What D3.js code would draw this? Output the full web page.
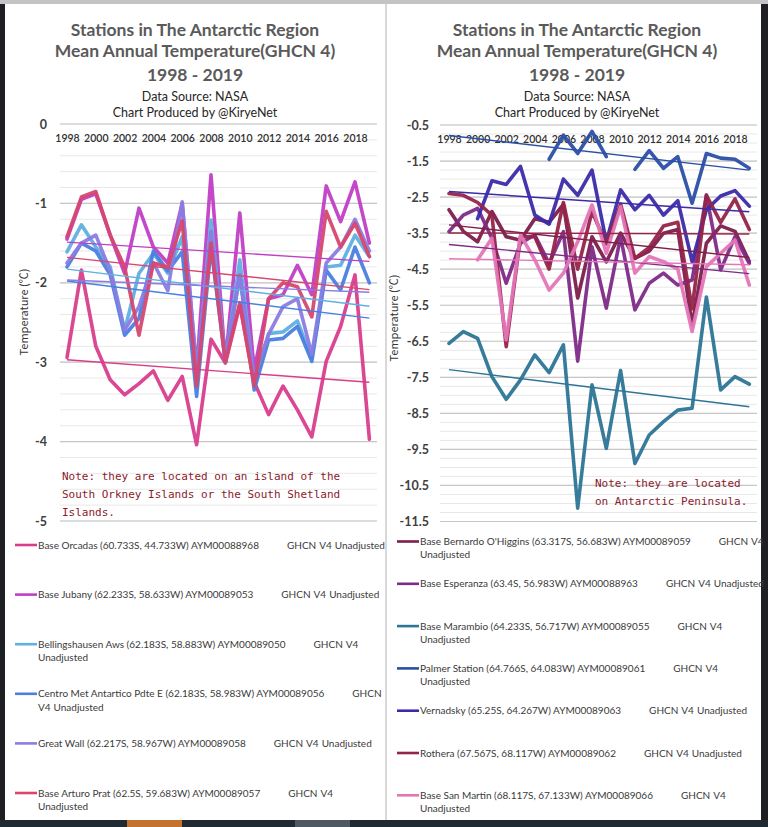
<!DOCTYPE html>
<html><head><meta charset="utf-8">
<script src="https://cdn.jsdelivr.net/npm/d3@7/dist/d3.min.js"></script>
<style>body{margin:0;background:#1c1d20;overflow:hidden}svg{display:block}</style>
</head><body><svg id="c" width="768" height="827"></svg>
<script>
// ---------- DATA ----------
const years = d3.range(1998, 2020);
const xTickYears = [1998,2000,2002,2004,2006,2008,2010,2012,2014,2016,2018];
const titleLines = ["Stations in The Antarctic Region","Mean Annual Temperature(GHCN 4)","1998 - 2019"];
const subLines = ["Data Source: NASA","Chart Produced by @KiryeNet"];
const yTitle = "Temperature (\u2103)";
const suffix = "GHCN V4 Unadjusted";

// Left chart
const leftYTicks = [0,-1,-2,-3,-4,-5];
const leftNames = [
 "Base Orcadas (60.733S, 44.733W) AYM00088968",
 "Base Jubany (62.233S, 58.633W) AYM00089053",
 "Bellingshausen Aws (62.183S, 58.883W) AYM00089050",
 "Centro Met Antartico Pdte E (62.183S, 58.983W) AYM00089056",
 "Great Wall (62.217S, 58.967W) AYM00089058",
 "Base Arturo Prat (62.5S, 59.683W) AYM00089057"];
const orcadas   = [-2.94,-1.84,-2.80,-3.22,-3.41,-3.27,-3.11,-3.48,-3.18,-4.04,-2.71,-3.01,-2.28,-3.25,-3.66,-3.30,-3.60,-3.94,-2.99,-2.55,-1.90,-3.97];
const jubany    = [-1.45,-0.95,-0.88,-1.40,-1.88,-1.06,-1.55,-1.75,-1.00,-3.10,-0.64,-3.00,-1.12,-3.10,-2.20,-2.15,-1.78,-2.15,-0.78,-1.23,-0.73,-1.50];
const bellings  = [-1.61,-1.27,-1.55,-1.80,-2.60,-1.88,-1.63,-1.88,-1.42,-3.20,-1.21,-3.00,-1.71,-3.25,-2.64,-2.62,-2.48,-2.95,-1.80,-1.78,-1.40,-1.67];
const centroMet = [-1.80,-1.50,-1.60,-1.90,-2.66,-2.45,-1.60,-1.85,-1.61,-3.43,-1.55,-3.00,-1.90,-3.35,-2.72,-2.70,-2.55,-2.99,-1.84,-2.09,-1.55,-2.00];
const greatWall = [-1.75,-1.50,-1.40,-1.85,-2.60,-2.30,-1.75,-2.10,-0.98,-3.10,-1.35,-3.00,-1.90,-3.20,-2.65,-2.30,-2.20,-2.90,-1.75,-1.55,-1.20,-1.60];
const arturoPrat= [-1.42,-0.92,-0.85,-1.40,-1.80,-2.66,-1.75,-1.80,-1.22,-3.30,-1.50,-3.00,-2.25,-3.30,-2.20,-2.00,-2.05,-2.43,-1.10,-1.55,-1.25,-1.67];
const leftSeries = [orcadas, jubany, bellings, centroMet, greatWall, arturoPrat];
const leftColors = ["#d83d8c","#c03fc6","#5fb0e0","#4a7fe0","#8b7ce2","#d7476f"];
const leftNote = ["Note: they are located on an island of the","South Orkney Islands or the South Shetland","Islands."];

// Right chart
const rightYTicks = [-0.5,-1.5,-2.5,-3.5,-4.5,-5.5,-6.5,-7.5,-8.5,-9.5,-10.5,-11.5];
const rightNames = [
 "Base Bernardo O'Higgins (63.317S, 56.683W) AYM00089059",
 "Base Esperanza (63.4S, 56.983W) AYM00088963",
 "Base Marambio (64.233S, 56.717W) AYM00089055",
 "Palmer Station (64.766S, 64.083W) AYM00089061",
 "Vernadsky (65.25S, 64.267W) AYM00089063",
 "Rothera (67.567S, 68.117W) AYM00089062",
 "Base San Martin (68.117S, 67.133W) AYM00089066"];
const ohiggins  = [-2.85,-3.45,-3.74,-2.90,-3.60,-3.70,-3.10,-3.20,-2.70,-5.30,-3.60,-4.30,-3.50,-4.20,-4.00,-3.50,-3.40,-6.05,-3.78,-3.30,-3.45,-4.29];
const esperanza = [-3.46,-3.00,-2.81,-3.64,-4.89,-3.78,-3.55,-4.34,-3.46,-7.05,-3.88,-5.58,-3.60,-5.63,-4.89,-4.61,-4.94,-4.80,-2.44,-4.52,-3.60,-4.34];
const marambio  = [-6.56,-6.23,-6.42,-7.48,-8.11,-7.57,-6.88,-7.37,-6.60,-11.13,-7.71,-9.47,-7.31,-9.89,-9.10,-8.73,-8.41,-8.36,-5.27,-7.85,-7.48,-7.69];
const palmer    = [null,null,null,null,null,null,null,-1.45,-0.78,-1.29,-0.68,-1.38,null,-1.73,-1.21,-1.70,-1.38,-2.67,-1.29,-1.42,-1.45,-1.70];
const vernadsky = [null,null,-3.10,-2.05,-2.15,-1.65,-3.00,-3.25,-2.00,-2.45,-1.75,-3.74,-2.30,-2.85,-2.45,-3.00,-2.60,-4.29,-2.85,-2.47,-2.32,-2.75];
const rothera   = [-2.40,-2.45,-2.65,-3.00,-6.65,-3.60,-3.60,-4.50,-2.65,-4.50,-2.90,-3.80,-2.70,-4.20,-3.90,-3.30,-3.20,-5.60,-2.45,-3.20,-2.55,-3.40];
const sanMartin = [null,null,-4.24,-3.64,-6.46,-3.55,-4.24,-5.08,-4.61,-3.74,-2.72,-4.06,-2.77,-4.61,-4.15,-4.29,-4.50,-6.23,-4.43,-4.06,-3.69,-4.94];
const rightSeries = [ohiggins, esperanza, marambio, palmer, vernadsky, rothera, sanMartin];
const rightColors = ["#7c1f4b","#7f2a88","#2d7597","#2a4fa6","#3b2ba9","#952449","#e476b8"];
const rightNote = ["Note: they are located","on Antarctic Peninsula."];

// ---------- DRAW ----------
const svg = d3.select("#c");
svg.append("rect").attr("width",768).attr("height",827).attr("fill","#1d1f22");
svg.append("rect").attr("x",0).attr("y",0).attr("width",768).attr("height",4).attr("fill","#c4c4c4");
svg.append("rect").attr("x",5).attr("y",4).attr("width",380).attr("height",816).attr("fill","#fff");
svg.append("rect").attr("x",385).attr("y",4).attr("width",2).attr("height",816).attr("fill","#d9d9d9");
svg.append("rect").attr("x",387).attr("y",4).attr("width",374).attr("height",816).attr("fill","#fff");
svg.append("rect").attr("x",0).attr("y",820).attr("width",768).attr("height",7).attr("fill","#1f2a33");
svg.append("rect").attr("x",127).attr("y",820).attr("width",55).attr("height",7).attr("fill","#c4722f");
svg.append("rect").attr("x",295).attr("y",820).attr("width",55).attr("height",7).attr("fill","#4e5963");

function regression(vals){
  const pts = vals.map((v,i)=>[i,v]).filter(p=>p[1]!=null);
  const mx = d3.mean(pts,p=>p[0]), my = d3.mean(pts,p=>p[1]);
  const b = d3.sum(pts,p=>(p[0]-mx)*(p[1]-my))/d3.sum(pts,p=>(p[0]-mx)**2);
  return i => my + b*(i-mx);
}

function drawChart(cfg){
  const g = svg.append("g");
  titleLines.forEach((t,i)=>g.append("text").attr("x",cfg.cx).attr("y",[36,57,81][i])
    .attr("text-anchor","middle").attr("font-family","Lato").attr("font-weight","bold")
    .attr("font-size",17.5).attr("fill","#5a5a5a").text(t));
  subLines.forEach((t,i)=>g.append("text").attr("x",cfg.cx).attr("y",[101,117][i])
    .attr("text-anchor","middle").attr("font-family","Lato").attr("font-size",12.5)
    .attr("fill","#262626").text(t));

  const x = d3.scalePoint().domain(years).range(cfg.xr);
  const y = d3.scaleLinear().domain(cfg.yd).range(cfg.yr);
  const minors = d3.range(0, Math.round((cfg.yd[0]-cfg.yd[1])/cfg.minor)+1).map(k=>cfg.yd[0]-k*cfg.minor);
  g.append("g").selectAll("line").data(minors).join("line")
    .attr("x1",cfg.gx[0]).attr("x2",cfg.gx[1]).attr("y1",d=>y(d)).attr("y2",d=>y(d))
    .attr("stroke","#e8e8e8").attr("stroke-width",1);
  g.append("g").selectAll("line").data(cfg.ticks).join("line")
    .attr("x1",cfg.gx[0]).attr("x2",cfg.gx[1]).attr("y1",d=>y(d)).attr("y2",d=>y(d))
    .attr("stroke","#c6c6c6").attr("stroke-width",1.2);
  const ya = d3.axisLeft(y).tickValues(cfg.ticks).tickSize(0).tickPadding(0)
     .tickFormat(d=>d3.format("")(d).replace("\u2212","-"));
  const yg = g.append("g").attr("transform",`translate(${cfg.ylabX},0)`).call(ya);
  yg.select(".domain").remove();
  yg.selectAll("text").attr("font-family","Lato").attr("font-weight","bold").attr("font-size",12.5).attr("fill","#404040");
  const xa = d3.axisBottom(x).tickValues(xTickYears).tickSize(0).tickPadding(0);
  const xg = g.append("g").attr("transform",`translate(0,${cfg.xlabY})`).call(xa);
  xg.select(".domain").remove();
  xg.selectAll("text").attr("font-family","Lato").attr("font-weight","600").attr("font-size",10.5).attr("fill","#303030");
  g.append("text").attr("transform",`translate(${cfg.ytX},${cfg.ytY}) rotate(-90)`)
    .attr("text-anchor","middle").attr("font-family","Noto Sans CJK JP").attr("font-size",11)
    .attr("fill","#333").text(yTitle);
  const line = d3.line().defined(d=>d[1]!=null).x(d=>x(d[0])).y(d=>y(d[1]));
  cfg.series.forEach((s,k)=>{
    g.append("path").datum(s.map((v,i)=>[years[i],v])).attr("d",line)
      .attr("fill","none").attr("stroke",cfg.colors[k]).attr("stroke-width",3.6)
      .attr("stroke-linejoin","round").attr("stroke-linecap","round").attr("stroke-opacity",0.95);
  });
  cfg.series.forEach((s,k)=>{
    const f = regression(s);
    g.append("line").attr("x1",x(years[0])).attr("x2",x(years[years.length-1]))
      .attr("y1",y(f(0))).attr("y2",y(f(years.length-1)))
      .attr("stroke",cfg.colors[k]).attr("stroke-width",1.4);
  });
  cfg.note.forEach((t,i)=>g.append("text").attr("x",cfg.noteX).attr("y",cfg.noteY+i*17.8)
    .attr("font-family","DejaVu Sans Mono").attr("font-size",11).attr("fill","#8a1a2c").text(t));
  cfg.names.forEach((nm,k)=>{
    const ly = cfg.legY + k*cfg.legStep;
    g.append("line").attr("x1",cfg.legX-23).attr("x2",cfg.legX-1).attr("y1",ly).attr("y2",ly)
      .attr("stroke",cfg.colors[k]).attr("stroke-width",2.6);
    const t = g.append("text").attr("x",cfg.legX).attr("y",ly+3.5).attr("font-family","Lato")
      .attr("font-size",10).attr("fill","#3a3a3a").text(nm);
    let cx = cfg.legX + t.node().getComputedTextLength() + 28, row = 0;
    suffix.split(" ").forEach(w=>{
      const wt = g.append("text").attr("font-family","Lato").attr("font-size",10).attr("fill","#3a3a3a").text(w);
      const ww = wt.node().getComputedTextLength();
      if (cx + ww > cfg.legMax) { row++; cx = cfg.legX; }
      wt.attr("x",cx).attr("y",ly+3.5+row*13.2);
      cx += ww + 3;
    });
  });
}

drawChart({cx:195, xr:[67,369.4], yd:[0,-5], yr:[124,521], gx:[60,377], minor:0.2,
  ticks:leftYTicks, ylabX:47, xlabY:135, ytX:28, ytY:312, series:leftSeries, colors:leftColors,
  note:leftNote, noteX:62, noteY:480, names:leftNames, legX:38, legY:545, legStep:49.6, legMax:385.7});
drawChart({cx:577, xr:[449,749.3], yd:[-0.5,-11.5], yr:[125,521.5], gx:[440,757], minor:0.25,
  ticks:rightYTicks, ylabX:429, xlabY:136, ytX:398, ytY:318, series:rightSeries, colors:rightColors,
  note:rightNote, noteX:595, noteY:487, names:rightNames, legX:420, legY:541.5, legStep:42.3, legMax:766});
</script></body></html>
